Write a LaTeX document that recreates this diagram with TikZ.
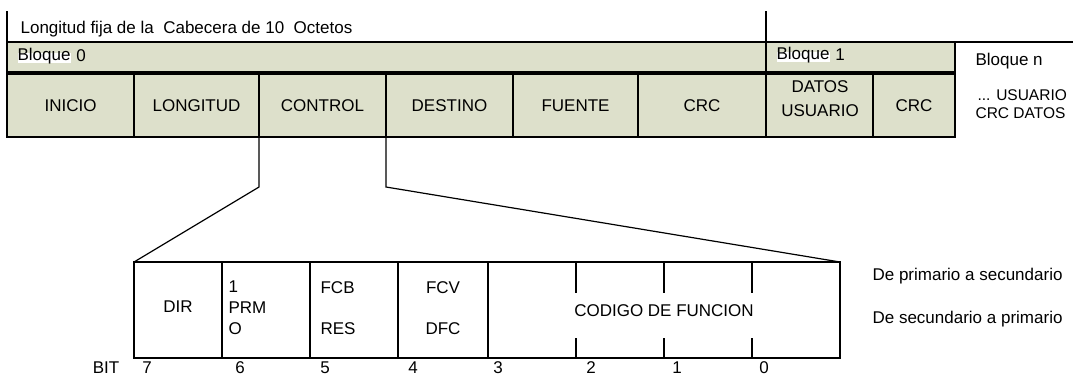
\documentclass[tikz,border=0pt]{standalone}
\usepackage{fontspec}
\setmainfont{Liberation Sans}
\usetikzlibrary{calc}
\definecolor{cellfill}{RGB}{221,224,203}
\newcommand\lblfont{\fontsize{17}{20}\selectfont}
\newcommand\smallfont{\fontsize{15.5}{18}\selectfont}
\begin{document}
\begin{tikzpicture}[x=1pt,y=-1pt,line width=1.2pt,
  box/.style={draw=black,fill=cellfill,inner sep=0pt,outer sep=0pt,anchor=north west,font=\lblfont,minimum height=#1},
  box/.default=63,
  wbox/.style={draw=black,fill=white,inner sep=0pt,outer sep=0pt,anchor=north west,minimum height=96},
  lbl/.style={inner sep=0pt,font=\lblfont,text height=0.72em,text depth=0pt},
  slbl/.style={inner sep=0pt,font=\smallfont,text height=0.72em,text depth=0pt}]
\useasboundingbox (0,0) rectangle (1073,380);

% header lines
\coordinate (hl) at (7,11);
\coordinate (hr) at (766,11);
\node[lbl,anchor=west] (hdr) at (20,30) {Longitud fija de la\ \ Cabecera de 10\ \ Octetos};

% Bloque row
\node[box=30,minimum width=759] (bl0) at (7,42) {};
\node[box=30,minimum width=189] (bl1) at (766,42) {};
\coordinate (topend) at (1073,42);
\draw (hl) -- (bl0.north west);
\draw (hr) -- (bl1.north west);
\draw (bl1.north east) -- (topend);
\node[lbl,anchor=west,fill=white,text depth=0.2em] (b0w) at (17,58) {Bloque};
\node[lbl,anchor=west] at (b0w.east) {\ 0};
\node[lbl,anchor=west,fill=white,text depth=0.2em] (b1w) at (776,57) {Bloque};
\node[lbl,anchor=west] at (b1w.east) {\ 1};
\node[lbl,anchor=west] (bn) at (975,62) {Bloque n};

% field row
\node[box,minimum width=127] (inicio) at (7,74) {INICIO};
\node[box,minimum width=125] (longitud) at (134,74) {LONGITUD};
\node[box,minimum width=127] (control) at (259,74) {CONTROL};
\node[box,minimum width=127] (destino) at (386,74) {DESTINO};
\node[box,minimum width=125] (fuente) at (513,74) {FUENTE};
\node[box,minimum width=128] (crc1) at (638,74) {CRC};
\node[box,minimum width=107] (datos) at (766,74) {};
\node[box,minimum width=82] (crc2) at (873,74) {CRC};
\node[lbl] (datos1) at (820,89) {DATOS};
\node[lbl] (datos2) at (820,113) {USUARIO};
\node[slbl,anchor=west] (usr) at (977,97) {... USUARIO};
\node[slbl,anchor=west] (crcd) at (975,115) {CRC DATOS};

% control byte box
\node[wbox,minimum width=88] (dir) at (134,262) {};
\node[wbox,minimum width=88] (prm) at (222,262) {};
\node[wbox,minimum width=88] (fcb) at (310,262) {};
\node[wbox,minimum width=90] (fcv) at (398,262) {};
\node[wbox,minimum width=352] (cod) at (488,262) {};
\foreach \dx in {88,176,264}{
  \draw ($(cod.north west)+(\dx,0)$) -- +(0,31);
  \draw ($(cod.south west)+(\dx,0)$) -- +(0,-20);
}

% connectors from CONTROL
\coordinate (kl) at (259,187);
\coordinate (kr) at (386,187);
\draw (control.south west) -- (kl) -- (dir.north west);
\draw (control.south east) -- (kr) -- (cod.north east);

% texts in control byte
\node[lbl] (tdir) at (178,309) {DIR};
\node[lbl,anchor=west] (t1) at (228,289) {1};
\node[lbl,anchor=west] (tprm) at (228,310) {PRM};
\node[lbl,anchor=west] (to) at (228,331) {O};
\node[lbl,anchor=west] (tfcb) at (320,290) {FCB};
\node[lbl,anchor=west] (tres) at (320,331) {RES};
\node[lbl] (tfcv) at (443,290) {FCV};
\node[lbl] (tdfc) at (443,331) {DFC};
\node[lbl,fill=white,inner xsep=2pt] (tcod) at (664,313) {CODIGO DE FUNCION};
\node[lbl,anchor=west] (tps) at (872,277) {De primario a secundario};
\node[lbl,anchor=west] (tsp) at (872,320) {De secundario a primario};

% bit numbers
\node[lbl] (bit) at (106,370) {BIT};
\foreach \n/\xx in {7/147,6/240,5/325,4/413,3/498,2/591,1/677,0/764}{
  \node[lbl] (b\n) at (\xx,370) {\n};
}
\end{tikzpicture}
\end{document}
